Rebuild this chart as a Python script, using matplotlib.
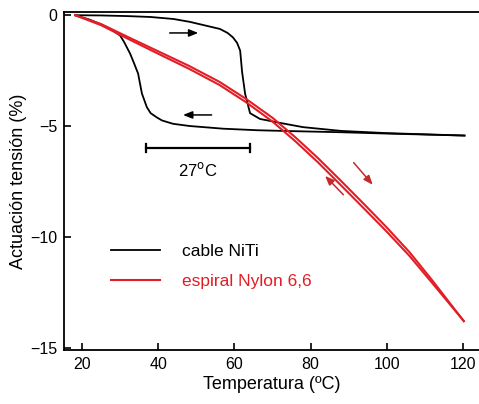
import matplotlib
matplotlib.use("Agg")
import matplotlib.pyplot as plt

plt.rcParams["font.family"] = ["Liberation Sans", "DejaVu Sans"]

# NiTi wire: heating branch (upper), cooling branch (lower)
niti_heat_t = [18.2, 25, 32, 38, 44, 48.3, 52, 56.2, 58.2, 59.6, 60.7, 61.5, 62, 62.8, 64.1, 66.7, 72, 78, 88, 100, 120.4]
niti_heat_v = [0, -0.01, -0.04, -0.08, -0.17, -0.3, -0.45, -0.62, -0.8, -1.0, -1.25, -1.6, -2.55, -3.55, -4.42, -4.68,
               -4.86, -5.05, -5.22, -5.32, -5.43]
niti_cool_t = [120.4, 100, 88, 75, 66, 57, 48.3, 43.9, 41, 39.7, 38, 37, 35.7, 34.7, 33.6, 32.6, 31, 30, 27.3, 25, 22, 18.2]
niti_cool_v = [-5.43, -5.34, -5.28, -5.23, -5.19, -5.12, -5.0, -4.9, -4.75, -4.62, -4.42, -4.15, -3.53, -2.63, -2.15,
               -1.73, -1.2, -0.92, -0.6, -0.42, -0.2, 0]

# Nylon 6,6 coil: heating and cooling run almost on top of each other
nylon_t = [18.2, 25, 32, 40, 48, 56, 63, 70, 76, 82, 88, 94, 100, 106, 112, 120.2]
nylon_heat_v = [0, -0.4, -0.98, -1.63, -2.28, -3.0, -3.77, -4.63, -5.51, -6.46, -7.48, -8.52, -9.58, -10.7, -11.98, -13.8]
nylon_cool_v = [0, -0.45, -1.06, -1.74, -2.41, -3.14, -3.92, -4.8, -5.69, -6.65, -7.68, -8.72, -9.77, -10.87, -12.1, -13.8]

x_ticks = [20, 40, 60, 80, 100, 120]
y_ticks = [0, -5, -10, -15]

RED = "#e31d25"
DARK_RED = "#c42a2c"

fig = plt.figure(figsize=(4.79, 4.04), dpi=100)
ax = fig.add_axes([0.134, 0.134, 0.866, 0.836])

ax.plot(niti_heat_t, niti_heat_v, color="black", lw=1.3, label="cable NiTi")
ax.plot(niti_cool_t, niti_cool_v, color="black", lw=1.3)
ax.plot(nylon_t, nylon_heat_v, color=RED, lw=1.5, label="espiral Nylon 6,6")
ax.plot(nylon_t, nylon_cool_v, color=RED, lw=1.5)

# direction arrows
arrow = dict(arrowstyle="-|>,head_length=0.55,head_width=0.22", lw=1.1, shrinkA=0, shrinkB=0)
ax.annotate("", xy=(50.5, -0.8), xytext=(43, -0.8), arrowprops=dict(color="black", **arrow))
ax.annotate("", xy=(46.5, -4.5), xytext=(54, -4.5), arrowprops=dict(color="black", **arrow))
ax.annotate("", xy=(96.3, -7.65), xytext=(91.3, -6.65), arrowprops=dict(color=DARK_RED, **arrow))
ax.annotate("", xy=(83.8, -7.25), xytext=(88.6, -8.1), arrowprops=dict(color=DARK_RED, **arrow))

# hysteresis width bar
ax.plot([36.9, 64], [-6.0, -6.0], color="black", lw=1.6)
ax.plot([36.9, 36.9], [-5.82, -6.18], color="black", lw=1.6)
ax.plot([64, 64], [-5.82, -6.18], color="black", lw=1.6)
ax.text(50.4, -7.0, "27$^{\\mathrm{o}}$C", ha="center", va="center", fontsize=12)

ax.set_xlim(15.3, 124.2)
ax.set_ylim(-15.1, 0.14)
ax.set_xticks(x_ticks)
ax.set_yticks(y_ticks)
ax.tick_params(direction="in", length=5, width=1.2, labelsize=11.5, pad=5)
ax.spines["right"].set_visible(False)
for s in ("left", "bottom", "top"):
    ax.spines[s].set_linewidth(1.3)

ax.set_xlabel("Temperatura (ºC)", fontsize=13, labelpad=3)
ax.set_ylabel("Actuación tensión (%)", fontsize=13, labelpad=2)

leg = ax.legend(loc="upper left", bbox_to_anchor=(0.075, 0.36), frameon=False,
                fontsize=12.5, handlelength=2.8, handletextpad=1.3, labelspacing=0.85,
                labelcolor="linecolor")

fig.savefig("out.png", dpi=100, facecolor="white")
